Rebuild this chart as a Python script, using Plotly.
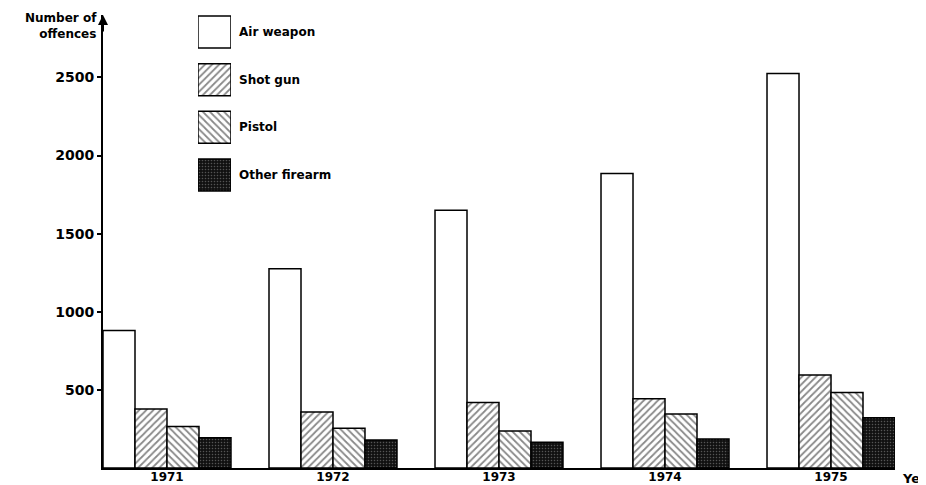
import plotly.graph_objects as go

years = ['1971', '1972', '1973', '1974', '1975']
series_names = ['Air weapon', 'Shot gun', 'Pistol', 'Other firearm']
air = [880, 1275, 1650, 1885, 2525]
shot = [378, 359, 419, 444, 596]
pistol = [265, 254, 237, 346, 483]
other = [194, 180, 165, 186, 322]
yticks = [500, 1000, 1500, 2000, 2500]

values = [air, shot, pistol, other]
patterns = [
    dict(shape='', bgcolor='white'),
    dict(shape='/', fgcolor='#111', bgcolor='white', size=5, solidity=0.35),
    dict(shape='\\', fgcolor='#111', bgcolor='white', size=5, solidity=0.35),
    dict(shape='.', fgcolor='#9a9a9a', bgcolor='#111', size=3, solidity=0.2),
]
colors = ['white', 'white', 'white', '#111']

FONT = 'DejaVu Sans'
fig = go.Figure()
for name, vals, pat, col in zip(series_names, values, patterns, colors):
    fig.add_trace(go.Bar(
        x=years, y=vals, name=name, showlegend=False,
        marker=dict(color=col, pattern=pat, line=dict(color='black', width=1.5)),
    ))

# custom legend swatches drawn as bars in a small helper subplot
for i, (name, pat, col) in enumerate(zip(series_names, patterns, colors)):
    fig.add_trace(go.Bar(
        x=[1], y=[i], orientation='h', width=0.671, showlegend=False,
        xaxis='x2', yaxis='y2', hoverinfo='skip',
        marker=dict(color=col, pattern=pat, line=dict(color='black', width=1.5)),
    ))
    fig.add_annotation(
        x=1, y=i, xref='x2', yref='y2', text=name, showarrow=False,
        xanchor='left', yanchor='middle', xshift=6,
        font=dict(family=FONT, size=12, color='black', weight='bold'),
    )

# the page body has an 8px default margin, so the figure is sized/offset for it
fig.update_layout(
    width=918, height=477,
    margin=dict(l=95, r=31, t=7, b=17, autoexpand=False),
    paper_bgcolor='white', plot_bgcolor='white',
    barmode='group', bargap=0.229, bargroupgap=0,
    xaxis=dict(
        type='category', range=[-0.3855, 4.3855], automargin=False,
        showline=True, linecolor='black', linewidth=2,
        showgrid=False, zeroline=False, ticks='', ticklabelstandoff=-3,
        tickfont=dict(family=FONT, size=12, color='black', weight='bold'),
    ),
    yaxis=dict(
        range=[0, 2900], tickvals=yticks, automargin=False,
        showline=True, linecolor='black', linewidth=2,
        showgrid=False, zeroline=False,
        ticks='outside', ticklen=4, tickwidth=1.5, tickcolor='black',
        tickfont=dict(family=FONT, size=14, color='black', weight='bold'),
    ),
    xaxis2=dict(domain=[0.1199, 0.1616], range=[0, 1], visible=False, anchor='y2'),
    yaxis2=dict(domain=[(468 - 199) / 453, 1.0], range=[3.503, -0.357],
                visible=False, anchor='x2'),
)

# y-axis title and arrow
fig.add_annotation(
    x=0, y=1, xref='paper', yref='paper', xanchor='right', yanchor='top',
    xshift=-4, yshift=6, align='right', showarrow=False,
    text='Number of<br>offences',
    font=dict(family=FONT, size=12, color='black', weight='bold'),
)
fig.add_annotation(
    x=0, y=1, xref='paper', yref='paper', showarrow=True,
    ax=0, ay=18, arrowhead=2, arrowsize=1, arrowwidth=2, arrowcolor='black', text='',
)
# x-axis title (runs off the page edge as in the original)
fig.add_annotation(
    x=1, y=0, xref='paper', yref='paper', xanchor='left', yanchor='top',
    xshift=5, yshift=-1, showarrow=False, text='Year',
    font=dict(family=FONT, size=13, color='black', weight='bold'),
)

fig.write_html('out.html')
